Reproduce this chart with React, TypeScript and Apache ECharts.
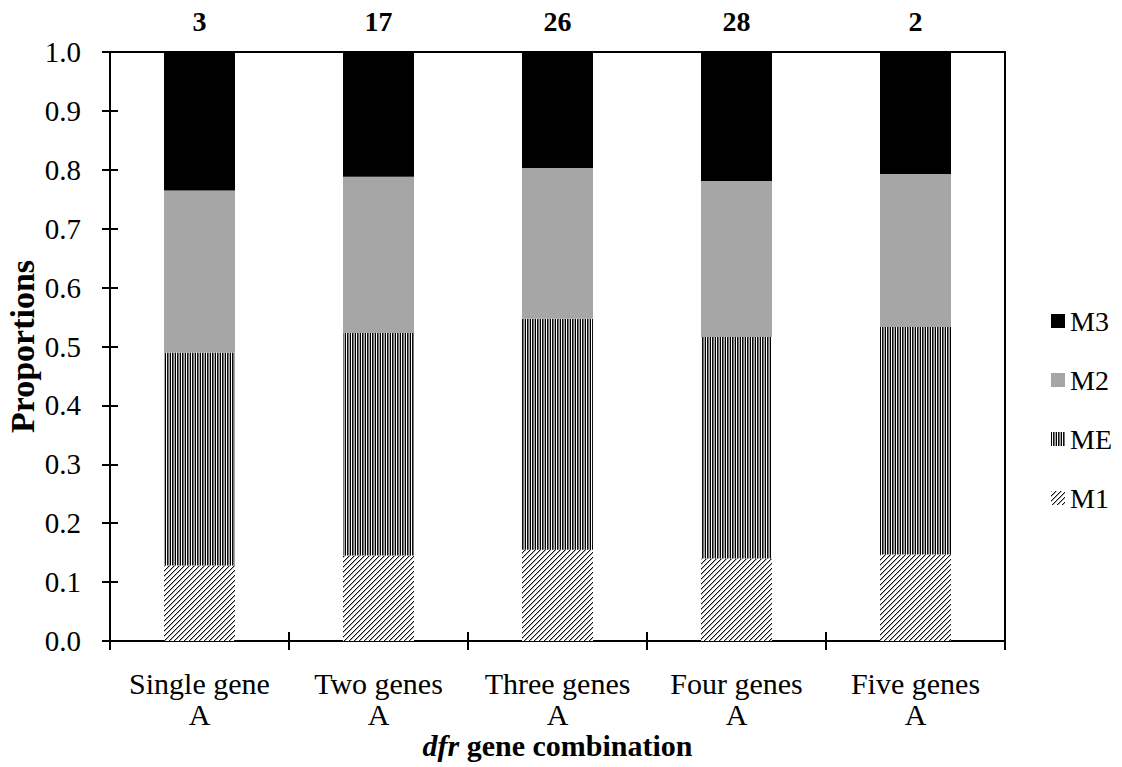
import React, { useEffect, useRef } from "react";
import * as echarts from "echarts";

const categories = ["Single gene", "Two genes", "Three genes", "Four genes", "Five genes"];
const groupLetters = ["A", "A", "A", "A", "A"];
const counts = [3, 17, 26, 28, 2];
const m1 = [0.128, 0.145, 0.155, 0.14, 0.147];
const me = [0.362, 0.378, 0.392, 0.376, 0.386];
const m2 = [0.275, 0.265, 0.256, 0.265, 0.26];
const m3 = [0.235, 0.212, 0.197, 0.219, 0.207];
const legendOrder = ["M3", "M2", "ME", "M1"];

const FONT = '"Liberation Serif", "Times New Roman", serif';

function makePattern(w: number, h: number, draw: (ctx: CanvasRenderingContext2D) => void) {
  const c = document.createElement("canvas");
  c.width = w;
  c.height = h;
  const ctx = c.getContext("2d")!;
  draw(ctx);
  return { image: c, repeat: "repeat" } as any;
}

export default function App() {
  const ref = useRef<HTMLDivElement>(null);
  useEffect(() => {
    if (!ref.current) return;
    const chart = echarts.init(ref.current, undefined, { renderer: "svg" });

    const hatch = makePattern(5, 5, (ctx) => {
      ctx.fillStyle = "#fff";
      ctx.fillRect(0, 0, 5, 5);
      for (let i = 0; i < 5; i++) {
        ctx.fillStyle = "#111";
        ctx.fillRect(i, 4 - i, 1, 1);
        ctx.fillStyle = "#aaa";
        ctx.fillRect(i, (5 - i) % 5, 1, 1);
      }
    });
    const stripes = makePattern(5, 4, (ctx) => {
      const cols = ["#000", "#fff", "#111", "#777", "#aaa"];
      cols.forEach((col, i) => {
        ctx.fillStyle = col;
        ctx.fillRect(i, 0, 1, 4);
      });
    });

    const cats = categories.map((c, i) => c + "\n" + groupLetters[i]);
    const base = { type: "bar", stack: "total", barWidth: 71, xAxisIndex: 0, yAxisIndex: 0 };

    chart.setOption({
      animation: false,
      backgroundColor: "#fff",
      grid: {
        left: 110,
        right: 117,
        top: 52,
        bottom: 126,
        show: true,
        borderColor: "#000",
        borderWidth: 2,
        backgroundColor: "transparent",
        containLabel: false,
        outerBoundsMode: "none",
      },
      legend: {
        orient: "vertical",
        left: 1046,
        top: 302,
        itemWidth: 14,
        itemHeight: 14,
        itemGap: 31,
        icon: "rect",
        data: legendOrder,
        textStyle: { fontFamily: FONT, fontSize: 28, color: "#000" },
      },
      xAxis: [
        {
          type: "category",
          data: cats,
          position: "bottom",
          axisLine: { lineStyle: { color: "#000", width: 2 } },
          axisTick: { show: true, length: 9, lineStyle: { color: "#000", width: 2 } },
          axisLabel: {
            fontFamily: FONT,
            fontSize: 30,
            color: "#000",
            lineHeight: 31,
            margin: 27,
            interval: 0,
          },
          name: "{i|dfr} gene combination",
          nameLocation: "middle",
          nameGap: 89,
          nameMoveOverlap: false,
          nameTextStyle: {
            fontFamily: FONT,
            fontSize: 30,
            fontWeight: "bold",
            color: "#000",
            rich: {
              i: { fontFamily: FONT, fontSize: 30, fontWeight: "bold", fontStyle: "italic", color: "#000" },
            },
          },
        },
        {
          type: "category",
          data: cats,
          position: "bottom",
          axisLine: { show: false },
          axisTick: { show: true, inside: true, length: 9, lineStyle: { color: "#000", width: 2 } },
          axisLabel: { show: false },
        },
      ],
      yAxis: [
        {
          type: "value",
          min: 0,
          max: 1,
          interval: 0.1,
          splitLine: { show: false },
          axisLine: { show: true, lineStyle: { color: "#000", width: 2 } },
          axisTick: { show: true, length: 8, lineStyle: { color: "#000", width: 2 } },
          axisLabel: {
            fontFamily: FONT,
            fontSize: 29,
            color: "#000",
            margin: 29,
            formatter: (v: number) => v.toFixed(1),
          },
          name: "Proportions",
          nameLocation: "middle",
          nameGap: 71,
          nameMoveOverlap: false,
          nameTextStyle: { fontFamily: FONT, fontSize: 34, fontWeight: "bold", color: "#000" },
        },
        {
          type: "value",
          min: 0,
          max: 1,
          interval: 0.1,
          position: "left",
          splitLine: { show: false },
          axisLine: { show: false },
          axisTick: { show: true, inside: true, length: 8, lineStyle: { color: "#000", width: 2 } },
          axisLabel: { show: false },
        },
      ],
      series: [
        { ...base, name: "M1", data: m1, itemStyle: { color: hatch } },
        { ...base, name: "ME", data: me, itemStyle: { color: stripes } },
        { ...base, name: "M2", data: m2, itemStyle: { color: "#a6a6a6" } },
        {
          ...base,
          name: "M3",
          data: m3,
          itemStyle: { color: "#000" },
          label: {
            show: true,
            position: "top",
            distance: 17,
            formatter: (p: any) => String(counts[p.dataIndex]),
            fontFamily: FONT,
            fontSize: 28,
            fontWeight: "bold",
            color: "#000",
          },
        },
      ],
    });
    return () => chart.dispose();
  }, []);
  return (
    <div
      ref={ref}
      style={{ position: "absolute", left: 0, top: 0, width: 1122, height: 767 }}
    />
  );
}
